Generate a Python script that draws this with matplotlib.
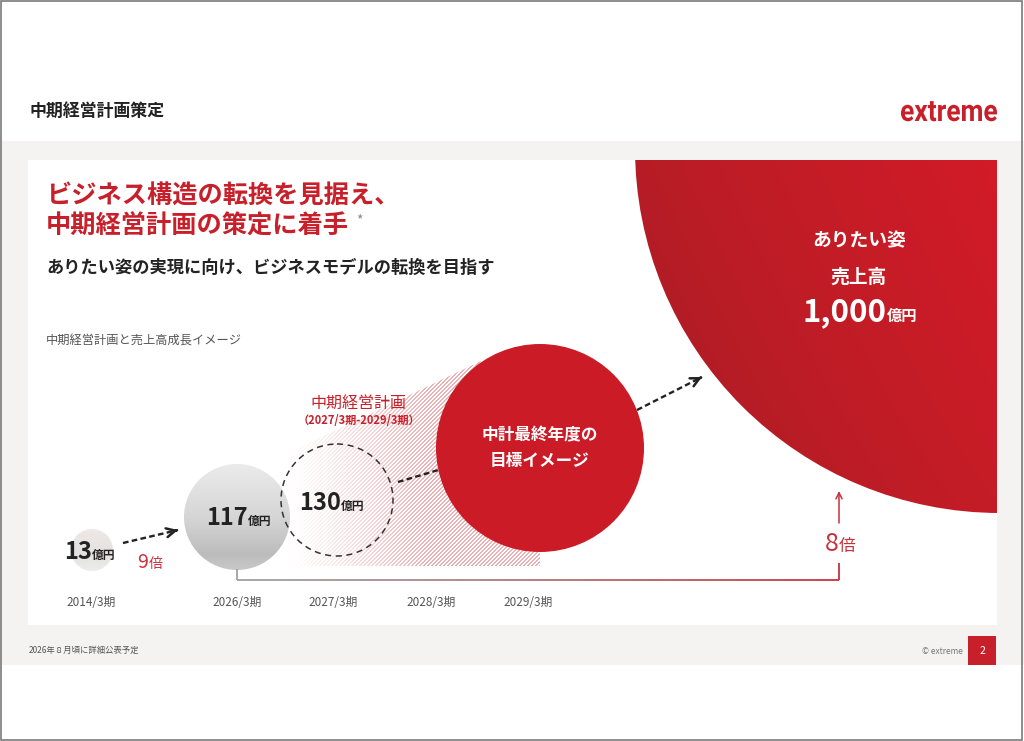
import numpy as np
import matplotlib
matplotlib.use("Agg")
import matplotlib.pyplot as plt
from matplotlib.patches import Rectangle, Circle, Polygon, PathPatch
from matplotlib.collections import LineCollection
from matplotlib.textpath import TextPath
from matplotlib.font_manager import FontProperties
from matplotlib.transforms import Affine2D
from matplotlib.colors import to_rgb

plt.rcParams["font.family"] = ["Noto Sans CJK JP", "DejaVu Sans"]

# -------------------------
# Data
# -------------------------

periods = ["2014/3期", "2026/3期", "2027/3期", "2028/3期", "2029/3期"]
sales_values = ["13", "117", "130"]
sales_unit = "億円"
target_value = "1,000"
growth_values = ["9", "8"]
growth_unit = "倍"

header_title = "中期経営計画策定"
headline = ["ビジネス構造の転換を見据え、", "中期経営計画の策定に着手"]
subline = "ありたい姿の実現に向け、ビジネスモデルの転換を目指す"
caption = "中期経営計画と売上高成長イメージ"
plan_label = "中期経営計画"
plan_range = "（2027/3期-2029/3期）"
goal_label = ["中計最終年度の", "目標イメージ"]
vision_label = ["ありたい姿", "売上高"]
footnote = "2026年８月頃に詳細公表予定"
page_no = "2"

# -------------------------
# Layout (pixels)
# -------------------------

period_x = [91, 237, 333, 431, 528]
c13 = (92, 550, 21)
c117 = (237, 517, 53)
c130 = (337, 500, 56)
cgoal = (540, 448, 104)
cvision = (1000, 148, 365)

RED = "#C8202B"
RED_SOFT = "#C8323C"
DARK = "#222222"

fig = plt.figure(figsize=(10.24, 7.41), dpi=100)
ax = fig.add_axes([0, 0, 1, 1])
ax.set_xlim(0, 1024)
ax.set_ylim(741, 0)
ax.axis("off")
renderer = fig.canvas.get_renderer()


def gradient_image(extent, stops, direction, clip, zorder, n=200):
    xs = np.linspace(0, 1, n)
    X, Y = np.meshgrid(xs, xs)
    t = np.clip(direction(X, Y), 0, 1)
    pos = [s[0] for s in stops]
    cols = np.array([to_rgb(s[1]) for s in stops])
    img = np.dstack([np.interp(t, pos, cols[:, k]) for k in range(3)])
    im = ax.imshow(img, extent=extent, origin="upper", aspect="auto",
                   interpolation="bilinear", zorder=zorder)
    im.set_clip_path(clip)
    return im


def value_text(cx, base_y, num, unit, size, unit_size, color,
               weight="bold", zorder=8):
    t1 = ax.text(cx, base_y, num, fontsize=size, color=color, weight=weight,
                 ha="left", va="baseline", zorder=zorder)
    t2 = ax.text(cx, base_y, unit, fontsize=unit_size, color=color,
                 weight=weight, ha="left", va="baseline", zorder=zorder)
    w1 = t1.get_window_extent(renderer).width
    w2 = t2.get_window_extent(renderer).width
    left = cx - (w1 + w2) / 2
    t1.set_x(left)
    t2.set_x(left + w1)


def dashed_arrow(start, end, head=True, zorder=5):
    ax.plot([start[0], end[0]], [start[1], end[1]], color=DARK, lw=1.7,
            ls=(0, (2.4, 1.4)), solid_capstyle="butt", zorder=zorder)
    if head:
        d = np.subtract(end, start) / np.hypot(*np.subtract(end, start))
        ax.annotate("", xy=end, xytext=(end[0] - d[0] * 2, end[1] - d[1] * 2),
                    arrowprops=dict(arrowstyle="->", color=DARK, lw=1.8,
                                    shrinkA=0, shrinkB=0, mutation_scale=16),
                    zorder=zorder)


# -------------------------
# Slide background
# -------------------------

ax.add_patch(Rectangle((0, 141), 1024, 524, fc="#F4F3F1", ec="none", zorder=0))
ax.add_patch(Rectangle((28, 160), 969, 465, fc="white", ec="none", zorder=0.5))
ax.add_patch(Rectangle((0.5, 0.5), 1021.5, 739.5, fill=False, ec="#7A7A7A",
                       lw=1.2, zorder=30))

ax.text(30, 111, header_title, fontsize=12.2, color=DARK, weight="bold",
        ha="left", va="center")

# logo
tp = TextPath((0, 0), "extreme", size=1,
              prop=FontProperties(family="Roboto", weight="bold"))
bb = tp.get_extents()
sx = 96 / bb.width
sy = 16 / 0.53
logo_tr = Affine2D().translate(-bb.x0, 0).scale(sx, -sy).translate(901, 121)
ax.add_patch(PathPatch(tp, transform=logo_tr + ax.transData, fc=RED,
                       ec="none", zorder=5))

# footer
ax.text(29, 650, footnote, fontsize=6, color="#555555", ha="left", va="center")
ax.text(963, 651, "© extreme", fontsize=6, color="#777777", ha="right",
        va="center")
ax.add_patch(Rectangle((968, 636), 28, 29, fc="#C8202B", ec="none", zorder=2))
ax.text(982, 651, page_no, fontsize=7.5, color="white", ha="center",
        va="center", zorder=3)

# -------------------------
# Headline texts
# -------------------------

ax.text(46, 196, headline[0], fontsize=18.2, color=RED, weight="bold",
        ha="left", va="center")
ax.text(46, 226, headline[1], fontsize=18.2, color=RED, weight="bold",
        ha="left", va="center")
ax.text(356, 220, "*", fontsize=10, color="#888888", ha="left", va="center")
ax.text(46, 268, subline, fontsize=12.4, color=DARK, weight="bold",
        ha="left", va="center")
ax.text(46, 341, caption, fontsize=8.8, color="#555555", ha="left",
        va="center")

# -------------------------
# Vision circle (clipped by card)
# -------------------------

vision = Circle(cvision[:2], cvision[2], transform=ax.transData)
gradient_image((634, 997, 513, 160),
               [(0, "#A31B23"), (0.45, "#BC1D26"), (1, "#D21B28")],
               lambda X, Y: 0.65 * X + 0.35 * (1 - Y) ** 0.8,
               vision, zorder=2)
ax.text(859, 241, vision_label[0], fontsize=13.5, color="white", weight="bold",
        ha="center", va="center", zorder=8)
ax.text(859, 277, vision_label[1], fontsize=13.5, color="white", weight="bold",
        ha="center", va="center", zorder=8)
value_text(860, 321, target_value, sales_unit, 22.5, 11, "white")

# -------------------------
# Hatched plan cone
# -------------------------

cone = Polygon([(250, 566), (250, 471), (481, 361), (540, 448), (540, 566)],
               closed=True, transform=ax.transData)
hx0, hx1, hy0, hy1 = 250, 540, 330, 566
HX, HY = np.meshgrid(np.arange(hx0, hx1), np.arange(hy0, hy1))
stripe = ((HX + HY) % 4) < 1.3
fade = np.clip((HX - 285) / 140, 0, 1) ** 1.2
hatch = np.zeros(HX.shape + (4,))
hatch[..., :3] = to_rgb("#D4545A")
hatch[..., 3] = stripe * fade * 0.45
him = ax.imshow(hatch, extent=(hx0, hx1, hy1, hy0), origin="upper",
                aspect="auto", interpolation="nearest", zorder=1)
him.set_clip_path(cone)

ax.text(358, 403, plan_label, fontsize=11.5, color=RED, ha="center",
        va="center", zorder=8)
ax.text(359, 421, plan_range, fontsize=8, color=RED, weight="bold",
        ha="center", va="center", zorder=8)

# -------------------------
# Sales circles
# -------------------------

clip13 = Circle(c13[:2], c13[2], transform=ax.transData)
gradient_image((c13[0] - c13[2], c13[0] + c13[2], c13[1] + c13[2], c13[1] - c13[2]),
               [(0, "#EFE9E7"), (0.6, "#E3E1E0"), (1, "#EDEDED")],
               lambda X, Y: Y, clip13, zorder=3)

clip117 = Circle(c117[:2], c117[2], transform=ax.transData)
gradient_image((c117[0] - c117[2], c117[0] + c117[2], c117[1] + c117[2],
                c117[1] - c117[2]),
               [(0, "#EBEBEB"), (0.5, "#D6D6D6"), (0.85, "#BCBCBC"), (1, "#C8C8C8")],
               lambda X, Y: Y, clip117, zorder=3)

ax.add_patch(Circle(c130[:2], c130[2], fill=False, ec="#333333", lw=1.1,
                    ls=(0, (4, 3)), zorder=3))

ax.add_patch(Circle(cgoal[:2], cgoal[2], fc="#CB1B27", ec="none", zorder=4))
ax.text(540, 435, goal_label[0], fontsize=12, color="white", weight="bold",
        ha="center", va="center", zorder=8)
ax.text(540, 461, goal_label[1], fontsize=12, color="white", weight="bold",
        ha="center", va="center", zorder=8)

value_text(90, 559, sales_values[0], sales_unit, 17, 8.5, DARK)
value_text(239, 525, sales_values[1], sales_unit, 17, 8.5, DARK)
value_text(332, 510, sales_values[2], sales_unit, 17, 8.5, DARK)

# -------------------------
# Arrows and bracket
# -------------------------

dashed_arrow((123, 543), (178, 530))
dashed_arrow((398, 482), (445, 468), head=False, zorder=3.5)
dashed_arrow((637, 410), (702, 377))

value_text(150, 568, growth_values[0], growth_unit, 14, 10, RED_SOFT,
           weight="normal")
value_text(840, 551, growth_values[1], growth_unit, 18, 12, RED_SOFT,
           weight="normal")

pts = np.array([(237, 569), (237, 580), (839, 580), (839, 563)], float)
segs, cols = [], []
c0, c1 = np.array(to_rgb("#A0A0A0")), np.array(to_rgb("#C8323C"))
for a, b in zip(pts[:-1], pts[1:]):
    n = max(int(np.hypot(*(b - a)) / 4), 1)
    for k in range(n):
        p = a + (b - a) * k / n
        q = a + (b - a) * (k + 1) / n
        segs.append([p, q])
        f = ((p[0] + q[0]) / 2 - 237) / (839 - 237)
        cols.append(c0 + (c1 - c0) * np.clip(f, 0, 1) ** 1.3)
ax.add_collection(LineCollection(segs, colors=cols, lw=1.3,
                                 capstyle="butt", zorder=5))

ax.annotate("", xy=(839, 491), xytext=(839, 523),
            arrowprops=dict(arrowstyle="->", color=RED_SOFT, lw=1.1,
                            shrinkA=0, shrinkB=0, mutation_scale=11))

# -------------------------
# Period labels
# -------------------------

for x, label in zip(period_x, periods):
    ax.text(x, 603, label, fontsize=8.5, color="#555555", ha="center",
            va="center", zorder=8)

ax.set_xlim(0, 1024)
ax.set_ylim(741, 0)
fig.savefig("out.png", dpi=100, facecolor="white")
